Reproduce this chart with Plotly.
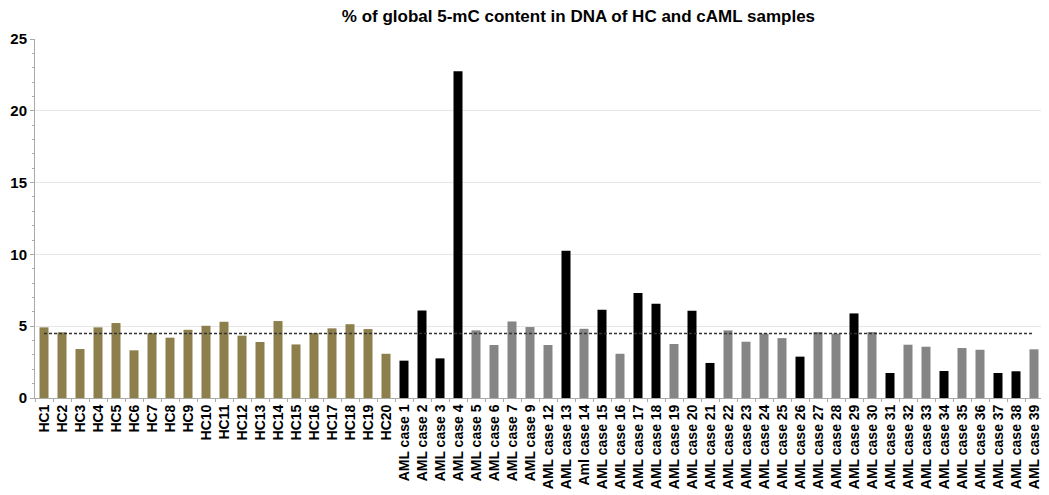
import plotly.graph_objects as go

hc_labels = [f"HC{i}" for i in range(1, 21)]
hc_values = [4.92, 4.57, 3.41, 4.92, 5.22, 3.32, 4.52, 4.20, 4.75, 5.03,
             5.31, 4.34, 3.90, 5.36, 3.73, 4.52, 4.85, 5.14, 4.80, 3.08]

aml_labels = ["AML case 1", "AML case 2", "AML case 3", "AML case 4", "AML case 5",
              "AML case 6", "AML case 7", "AML case 9", "AML case 12", "AML case 13",
              "Aml case 14", "AML case 15", "AML case 16", "AML case 17", "AML case 18",
              "AML case 19", "AML case 20", "AML case 21", "AML case 22", "AML case 23",
              "AML case 24", "AML case 25", "AML case 26", "AML case 27", "AML case 28",
              "AML case 29", "AML case 30", "AML case 31", "AML case 32", "AML case 33",
              "AML case 34", "AML case 35", "AML case 36", "AML case 37", "AML case 38",
              "AML case 39"]
aml_values = [2.60, 6.10, 2.76, 22.75, 4.71, 3.69, 5.33, 4.94, 3.69, 10.25,
              4.82, 6.15, 3.08, 7.31, 6.56, 3.76, 6.08, 2.44, 4.71, 3.92,
              4.48, 4.17, 2.88, 4.59, 4.48, 5.89, 4.59, 1.74, 3.71, 3.57,
              1.88, 3.48, 3.36, 1.74, 1.86, 3.39]
# 1 = high (black), 0 = other (gray)
aml_high = [1, 1, 1, 1, 0, 0, 0, 0, 0, 1,
            0, 1, 0, 1, 1, 0, 1, 1, 0, 0,
            0, 0, 1, 0, 0, 1, 0, 1, 0, 0,
            1, 0, 0, 1, 1, 0]

threshold = 4.5

HC_COLOR = "#8c7f4b"
BLACK = "#000000"
GRAY = "#858585"

categories = hc_labels + aml_labels
values = hc_values + aml_values
colors = [HC_COLOR] * len(hc_labels) + [BLACK if h else GRAY for h in aml_high]

fig = go.Figure()
fig.add_trace(go.Bar(x=categories, y=values, marker=dict(color=colors, line=dict(width=0)),
                     showlegend=False))
fig.add_trace(go.Scatter(x=[categories[0], categories[-1]], y=[threshold, threshold],
                         mode="lines", line=dict(color="#333333", width=1.5, dash="3px,2px"),
                         showlegend=False))

fig.update_layout(
    width=1041, height=487,
    margin=dict(l=27, r=6, t=31, b=97, autoexpand=False),
    plot_bgcolor="white", paper_bgcolor="white",
    bargap=0.5,
    font=dict(family="Liberation Sans, Arial, sans-serif", color="black"),
    title=dict(text="<b>% of global 5-mC content in DNA of HC and cAML samples</b>",
               x=0.548, xanchor="center", y=0.995, yanchor="top",
               font=dict(size=17, color="black")),
    xaxis=dict(tickangle=-90, tickfont=dict(size=14), showgrid=False, automargin=False,
               showline=True, linecolor="#aaaaaa", ticks="outside", ticklen=3,
               tickcolor="#aaaaaa", tickson="boundaries",
               range=[-0.5, len(categories) - 0.5],
               tickvals=categories,
               ticktext=[f"<b>{c}</b>" for c in categories]),
    yaxis=dict(range=[0, 25], dtick=5, showgrid=True, gridcolor="#e6e6e6", automargin=False,
               showline=True, linecolor="#aaaaaa", ticks="outside", ticklen=4,
               tickcolor="#aaaaaa", zeroline=False,
               tickvals=[0, 5, 10, 15, 20, 25],
               ticktext=["<b>0</b>", "<b>5</b>", "<b>10</b>", "<b>15</b>", "<b>20</b>", "<b>25</b>"],
               tickfont=dict(size=15),
               minor=dict(dtick=1, ticks="outside", ticklen=2, tickcolor="#aaaaaa", showgrid=False)),
)

fig.write_html("out.html")
